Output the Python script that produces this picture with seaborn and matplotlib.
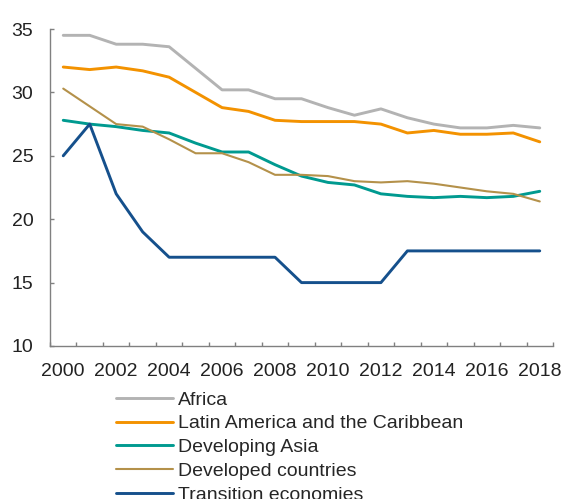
import matplotlib
matplotlib.use('Agg')
import matplotlib.pyplot as plt
import seaborn as sns
from matplotlib.ticker import FixedLocator

years = list(range(2000, 2019))

africa = [34.5, 34.5, 33.8, 33.8, 33.6, 31.9, 30.2, 30.2, 29.5, 29.5,
          28.8, 28.2, 28.7, 28.0, 27.5, 27.2, 27.2, 27.4, 27.2]
latin_america = [32.0, 31.8, 32.0, 31.7, 31.2, 30.0, 28.8, 28.5, 27.8, 27.7,
                 27.7, 27.7, 27.5, 26.8, 27.0, 26.7, 26.7, 26.8, 26.1]
developing_asia = [27.8, 27.5, 27.3, 27.0, 26.8, 26.0, 25.3, 25.3, 24.3, 23.4,
                   22.9, 22.7, 22.0, 21.8, 21.7, 21.8, 21.7, 21.8, 22.2]
developed = [30.3, 28.9, 27.5, 27.3, 26.3, 25.2, 25.2, 24.5, 23.5, 23.5,
             23.4, 23.0, 22.9, 23.0, 22.8, 22.5, 22.2, 22.0, 21.4]
transition = [25.0, 27.5, 22.0, 19.0, 17.0, 17.0, 17.0, 17.0, 17.0, 15.0,
              15.0, 15.0, 15.0, 17.5, 17.5, 17.5, 17.5, 17.5, 17.5]

labels = ['Africa', 'Latin America and the Caribbean', 'Developing Asia',
          'Developed countries', 'Transition economies']
series = [africa, latin_america, developing_asia, developed, transition]
colors = ['#b3b3b3', '#f39200', '#009a90', '#b4914a', '#15508c']
widths = [2.1, 2.1, 2.1, 1.5, 2.1]

sns.set_style('white')
plt.rcParams['font.family'] = ['Liberation Sans', 'DejaVu Sans']

fig = plt.figure(figsize=(5.64, 4.99), dpi=100)
ax = fig.add_axes([50 / 564, 153 / 499, 503 / 564, 317 / 499])

for lab, vals, col, lw in zip(labels, series, colors, widths):
    sns.lineplot(x=years, y=vals, color=col, linewidth=lw, label=lab, ax=ax)

ax.set_xlim(1999.5, 2018.5)
ax.set_ylim(10, 35)
ax.set_xticks(years[::2])
ax.set_xticklabels([str(y) for y in years[::2]])
ax.xaxis.set_minor_locator(FixedLocator([y + 0.5 for y in range(1999, 2019)]))
ax.set_yticks([10, 15, 20, 25, 30, 35])

ax.tick_params(axis='x', which='major', length=0, pad=12, labelsize=14, colors='#222222')
ax.tick_params(axis='x', which='minor', direction='in', length=3, width=1, color='#808080', bottom=True)
ax.tick_params(axis='y', direction='in', length=3, width=1, color='#808080', pad=12,
               labelsize=14, labelcolor='#222222', left=True)

for side in ['top', 'right']:
    ax.spines[side].set_visible(False)
for side in ['left', 'bottom']:
    ax.spines[side].set_color('#808080')
    ax.spines[side].set_linewidth(1)
ax.set_xlabel('')
ax.set_ylabel('')

handles, labs = ax.get_legend_handles_labels()
ax.legend_.remove()
fig.legend(handles, labs, loc='upper left', bbox_to_anchor=(116 / 564, 1 - 391 / 499),
           frameon=False, fontsize=14, handlelength=2.95, handletextpad=0.25,
           borderpad=0, borderaxespad=0, labelspacing=0.32)

fig.savefig('out.png', dpi=100)
plt.close(fig)
